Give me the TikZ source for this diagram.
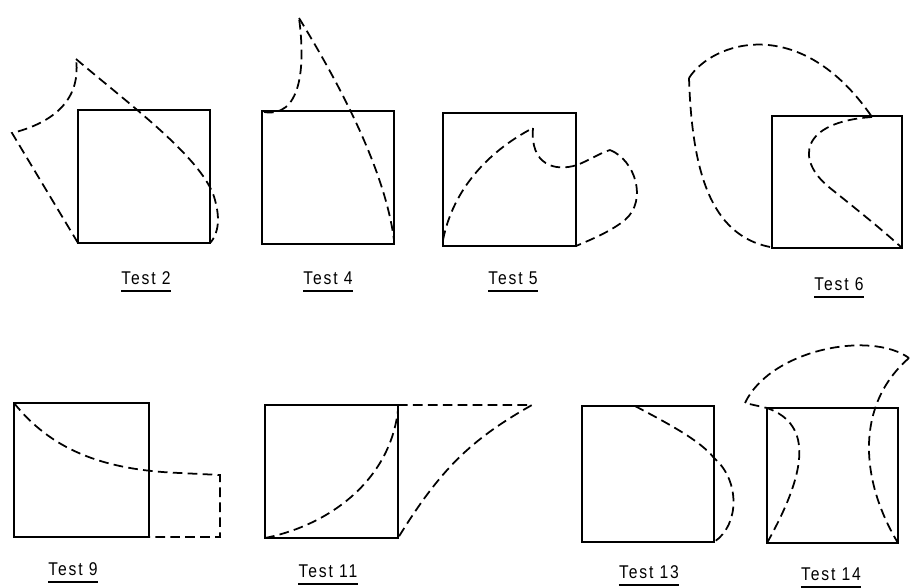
\documentclass[tikz,border=0pt]{standalone}
\usepackage{fontspec}
\newfontfamily\labelfont{Liberation Sans}[LetterSpace=10,FakeStretch=0.85]
\usetikzlibrary{calc}

\begin{document}
\begin{tikzpicture}[x=0.02cm,y=-0.02cm,
    square/.style={line width=1.1pt,line join=miter},
    trace/.style={line width=1pt,dash pattern=on 5.5pt off 3pt},
    testlabel/.style={anchor=base,inner sep=0pt,font=\labelfont\fontsize{10.5}{12}\selectfont}]
  \useasboundingbox[fill=white] (0,0) rectangle (910,588);
  % squares
  \foreach \xa/\ya/\xb/\yb in {78/110/210/243,262/111/394/244,443/113/576/246,772/116/902/248,
                               14/403/149/537,265/405/398/538,582/406/714/542,767/408/898/543}{
    \draw[square] (\xa,\ya) rectangle (\xb,\yb);
  }
  % Test 2
  \draw[trace] (78,243) -- (12,133) .. controls (45,125) and (82,105) .. (76,59);
  \draw[trace] (76,59) .. controls (130,105) and (205,160) .. (215,200)
                       .. controls (222,225) and (215,238) .. (210,243);
  % Test 4
  \draw[trace] (264,112) .. controls (300,118) and (306,70) .. (299,18);
  \draw[trace] (299,18) .. controls (340,85) and (385,170) .. (394,240);
  % Test 5
  \draw[trace] (443,240) .. controls (455,180) and (500,145) .. (533,128);
  \draw[trace] (533,128) .. controls (530,165) and (555,172) .. (577,165)
                         .. controls (590,160) and (600,153) .. (610,150);
  \draw[trace] (610,150) .. controls (635,160) and (648,200) .. (625,220)
                         .. controls (610,232) and (590,240) .. (576,246);
  % Test 6
  \draw[trace] (770,247) .. controls (710,235) and (692,170) .. (689,78);
  \draw[trace] (689,78) .. controls (712,42) and (800,12) .. (872,117);
  \draw[trace] (872,117) .. controls (800,122) and (795,160) .. (830,188)
                         .. controls (855,208) and (885,232) .. (902,248);
  % Test 9
  \draw[trace] (14,403) .. controls (50,448) and (100,470) .. (180,473) -- (220,475) -- (220,537) -- (149,537);
  % Test 11
  \draw[trace] (398,405) -- (532,405) .. controls (470,440) and (440,470) .. (398,538);
  \draw[trace] (265,538) .. controls (330,525) and (390,480) .. (398,410);
  % Test 13
  \draw[trace] (635,406) .. controls (665,422) and (700,440) .. (714,458)
                         .. controls (740,480) and (740,525) .. (714,542);
  % Test 14
  \draw[trace] (767,543) .. controls (805,475) and (815,425) .. (767,408) -- (745,403);
  \draw[trace] (745,403) .. controls (770,350) and (870,330) .. (909,358);
  \draw[trace] (909,358) .. controls (855,405) and (860,480) .. (898,543);
  % labels
  \foreach \n/\x/\y/\t in {t2/146/284/2,t4/328/284/4,t5/513/284/5,t6/839/290/6,
                           t9/73/575/9,t11/328/577/11,t13/649/578/13,t14/831/580/14}{
    \node[testlabel] (\n) at (\x,\y) {Test \t};
    \draw[line width=0.9pt] ([yshift=-4pt]\n.base west) -- ([yshift=-4pt]\n.base east);
  }
\end{tikzpicture}
\end{document}
